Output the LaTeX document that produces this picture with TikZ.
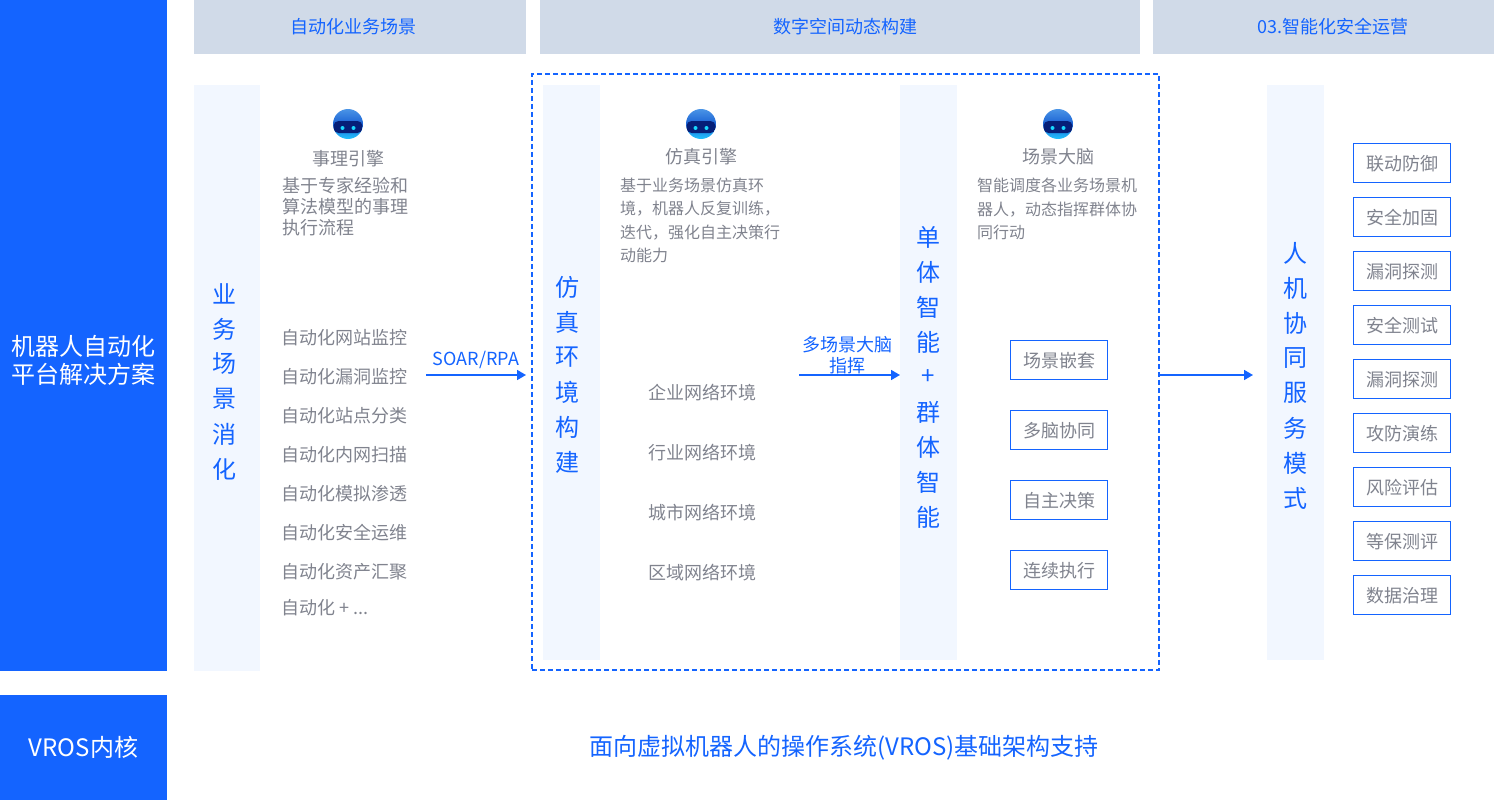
\documentclass[tikz,border=0pt]{standalone}
\usepackage{fontspec}
\setmainfont{Noto Sans CJK SC}
\usetikzlibrary{arrows.meta}
\definecolor{bluemain}{HTML}{1464FF}
\definecolor{headbg}{HTML}{D0DAE8}
\definecolor{panelbg}{HTML}{F2F7FF}
\definecolor{greytxt}{HTML}{80838E}
\definecolor{visor}{HTML}{061F78}
\definecolor{balltop}{HTML}{4A94E6}
\definecolor{ballmid}{HTML}{1A62D4}
\definecolor{ballbot}{HTML}{22C4FF}
\definecolor{eye}{HTML}{18D8FF}
\newcommand{\fs}[1]{\fontsize{#1pt}{#1pt}\selectfont}
\tikzset{
 x=1pt,y=-1pt,
 every node/.style={inner sep=0pt,outer sep=0pt},
 solidblue/.style={fill=bluemain,draw=none,anchor=north west},
 solidtxt/.style={text=white,align=center,font=\fontsize{24pt}{28pt}\selectfont},
 headbox/.style={fill=headbg,draw=none,anchor=north west},
 headtxt/.style={text=bluemain,font=\fs{18}},
 panelbox/.style={fill=panelbg,draw=none,anchor=north west},
 verttxt/.style={text=bluemain,font=\fs{24}},
 bodytxt/.style={text=greytxt,font=\fs{18},anchor=west},
 desctxt/.style={text=greytxt,anchor=north west,align=left},
 titletxt/.style={text=greytxt,font=\fs{18}},
 tagbox/.style={draw=bluemain,line width=1pt,fill=white,text=greytxt,font=\fs{18},minimum width=97pt,minimum height=39pt,anchor=north west,text height=15.5pt,text depth=-1pt},
 flowarrow/.style={draw=bluemain,line width=1.7pt,-{Triangle[length=9pt,width=10pt]}},
 arrowlabel/.style={text=bluemain,font=\fs{18},align=center},
}
\newcommand{\robot}[2]{%
 \begin{scope}
 \clip (#1,#2) circle[radius=15];
 \shade[top color=balltop,bottom color=ballbot,middle color=ballmid] (#1-15,#2-15) rectangle (#1+15,#2+15);
 \fill[visor,rounded corners=5pt] (#1-14.5,#2-3) rectangle (#1+14.5,#2+9);
 \end{scope}
 \fill[eye] (#1-5.5,#2+4) circle[radius=2];
 \fill[eye] (#1+5.5,#2+4) circle[radius=2];
}
\begin{document}
\begin{tikzpicture}
\useasboundingbox (0,0) rectangle (1494,800);
% left bars
\node[solidblue,minimum width=167pt,minimum height=671pt] (lbar) at (0,0) {};
\node[solidblue,minimum width=167pt,minimum height=105pt] (vros) at (0,695) {};
\node[solidtxt] (lbart) at (83.5,360.5) {机器人自动化\\平台解决方案};
\node[solidtxt] (vrost) at (83.5,747) {VROS内核};
% headers
\node[headbox,minimum width=332pt,minimum height=54pt] (h1) at (194,0) {};
\node[headbox,minimum width=600pt,minimum height=54pt] (h2) at (540,0) {};
\node[headbox,minimum width=341pt,minimum height=54pt] (h3) at (1153,0) {};
\node[headtxt] (h1t) at (353.5,27) {自动化业务场景};
\node[headtxt] (h2t) at (845,27) {数字空间动态构建};
\node[headtxt] (h3t) at (1332.5,27) {03.智能化安全运营};
% frame
\node[draw=bluemain,line width=2pt,dash pattern=on 5pt off 3pt,anchor=north west,minimum width=627pt,minimum height=596pt] (frame) at (532,74) {};
% panels
\node[panelbox,minimum width=66pt,minimum height=586pt] (p1) at (194,85) {};
\node[panelbox,minimum width=57pt,minimum height=575pt] (p2) at (543,85) {};
\node[panelbox,minimum width=57pt,minimum height=575pt] (p3) at (900,85) {};
\node[panelbox,minimum width=57pt,minimum height=575pt] (p4) at (1267,85) {};
% vertical text
\foreach \t [count=\i] in {业,务,场,景,消,化} \node[verttxt] (va\i) at (224,{294+(\i-1)*35}) {\t};
\foreach \t [count=\i] in {仿,真,环,境,构,建} \node[verttxt] (vb\i) at (567,{287+(\i-1)*35}) {\t};
\foreach \t [count=\i] in {单,体,智,能,+,群,体,智,能} \node[verttxt] (vc\i) at (928,{237+(\i-1)*35}) {\t};
\foreach \t [count=\i] in {人,机,协,同,服,务,模,式} \node[verttxt] (vd\i) at (1295,{253+(\i-1)*35}) {\t};
% robots and titles
\robot{348}{124}
\robot{701}{124}
\robot{1058}{124}
\node[titletxt] (t1) at (348,158.5) {事理引擎};
\node[titletxt] (t2) at (701,157) {仿真引擎};
\node[titletxt] (t3) at (1058,157) {场景大脑};
\node[desctxt,font=\fontsize{18pt}{21pt}\selectfont] (d1) at (282,177) {基于专家经验和\\算法模型的事理\\执行流程};
\node[desctxt,font=\fontsize{16pt}{23.5pt}\selectfont] (d2) at (620,178) {基于业务场景仿真环\\境，机器人反复训练，\\迭代，强化自主决策行\\动能力};
\node[desctxt,font=\fontsize{16pt}{23.5pt}\selectfont] (d3) at (977,178) {智能调度各业务场景机\\器人，动态指挥群体协\\同行动};
% list 1
\foreach \t/\y [count=\i] in {自动化网站监控/338,自动化漏洞监控/377,自动化站点分类/416,自动化内网扫描/455,自动化模拟渗透/494,自动化安全运维/533,自动化资产汇聚/572}
 \node[bodytxt] (la\i) at (281.5,\y) {\t};
\node[bodytxt] (la8) at (281.5,608) {自动化 + ...};
% list 2
\foreach \t/\y [count=\i] in {企业网络环境/393,行业网络环境/453,城市网络环境/513,区域网络环境/573}
 \node[bodytxt] (lb\i) at (648,\y) {\t};
% tags 3
\foreach \t/\y [count=\i] in {场景嵌套/340.5,多脑协同/410.5,自主决策/480.5,连续执行/550.5}
 \node[tagbox] (tc\i) at (1010.5,\y) {\t};
% tags 4
\foreach \t/\y [count=\i] in {联动防御/143.5,安全加固/197.5,漏洞探测/251.5,安全测试/305.5,漏洞探测/359.5,攻防演练/413.5,风险评估/467.5,等保测评/521.5,数据治理/575.5}
 \node[tagbox] (td\i) at (1353.5,\y) {\t};
% arrows
\coordinate (a1s) at (426,375);
\coordinate (a1e) at (526,375);
\coordinate (a2s) at (799,375);
\coordinate (a3e) at (1253,375);
\draw[flowarrow] (a1s) -- (a1e);
\draw[flowarrow] (a2s) -- (p3.west |- a2s);
\draw[flowarrow] (frame.east |- a3e) -- (a3e);
\node[arrowlabel] (al1) at (476,360) {SOAR/RPA};
\node[arrowlabel,font=\fontsize{18pt}{21pt}\selectfont] (al2) at (847,355) {多场景大脑\\指挥};
% bottom
\node[text=bluemain,font=\fs{24}] (bottom) at (844,747.5) {面向虚拟机器人的操作系统(VROS)基础架构支持};
\end{tikzpicture}
\end{document}
